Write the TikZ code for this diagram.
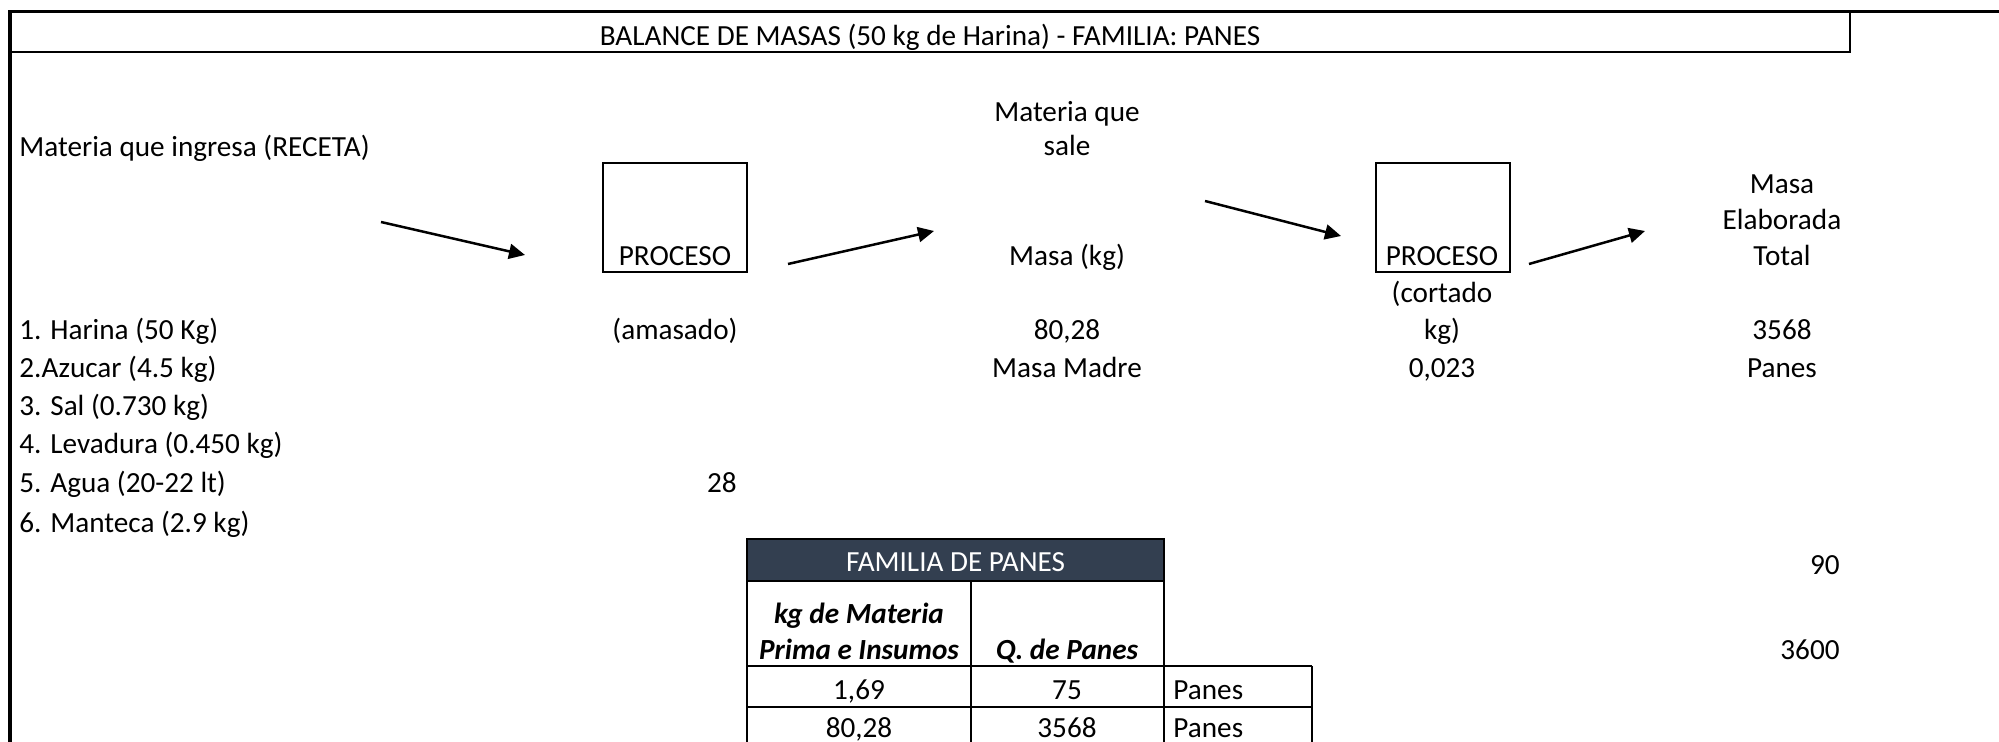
\documentclass[tikz,border=0pt]{standalone}
\usepackage{fontspec}
\setmainfont{Carlito}
\usetikzlibrary{arrows.meta}
\definecolor{hdrblue}{RGB}{51,63,80}
\begin{document}
\begin{tikzpicture}[x=0.5pt,y=-0.5pt,
  txt/.style={inner sep=0pt,anchor=base,yshift=-1.2pt,font=\fontsize{14.6}{17}\selectfont},
  lefttxt/.style={txt,anchor=base west},
  righttxt/.style={txt,anchor=base east},
  boldit/.style={txt,font=\fontsize{14.6}{17}\selectfont\bfseries\itshape},
  lastrow/.style={text depth=0pt},
  frame/.style={line width=1.75pt},
  medline/.style={line width=1pt},
  tblthick/.style={line width=1.3pt},
  tblthin/.style={line width=0.9pt},
  procbox/.style={draw,line width=1pt,inner sep=0pt,minimum height=54.5pt},
  flow/.style={line width=1.25pt,-{Triangle[length=8pt,width=7.5pt]}}
]
\useasboundingbox (0,0) rectangle (1999,742);

% sheet frame and title cell
\draw[frame] (10,742) -- (10,11.5) -- (1999,11.5);
\draw[medline] (10,52) -- (1850,52) -- (1850,11.5);
\node[txt] (title) at (930,43) {BALANCE DE MASAS (50 kg de Harina) - FAMILIA: PANES};

% recipe column
\node[lefttxt] (ingresa) at (19,154) {Materia que ingresa (RECETA)};
\node[lefttxt] (i1) at (19,337) {1. Harina (50 Kg)};
\node[lefttxt] (i2) at (19,375) {2.Azucar (4.5 kg)};
\node[lefttxt] (i3) at (19,413) {3. Sal (0.730 kg)};
\node[lefttxt] (i4) at (19,451) {4. Levadura (0.450 kg)};
\node[lefttxt] (i5) at (19,490) {5. Agua (20-22 lt)};
\node[lefttxt] (i6) at (19,530) {6. Manteca (2.9 kg)};

% first process: kneading
\node[procbox,minimum width=72pt] (p1) at (675,217.5) {};
\node[txt] (p1lbl) at (675,263) {PROCESO};
\node[txt] (amasado) at (675,337) {(amasado)};
\node[righttxt] (v28) at (737,490) {28};

% output of kneading
\node[txt] (sale1) at (1067,119) {Materia que};
\node[txt] (sale2) at (1067,153) {sale};
\node[txt] (masakg) at (1067,263) {Masa (kg)};
\node[txt] (m8028) at (1067,337) {80,28};
\node[txt] (madre) at (1067,375) {Masa Madre};

% second process: cutting
\node[procbox,minimum width=67pt] (p2) at (1442.5,217.5) {};
\node[txt] (p2lbl) at (1442,263) {PROCESO};
\node[txt] (cort1) at (1442,300) {(cortado};
\node[txt] (cort2) at (1442,337) {kg)};
\node[txt] (v0023) at (1442,375) {0,023};

% final product
\node[txt] (el1) at (1782,191) {Masa};
\node[txt] (el2) at (1782,227) {Elaborada};
\node[txt] (el3) at (1782,263) {Total};
\node[txt] (v3568) at (1782,337) {3568};
\node[txt] (panes) at (1782,375) {Panes};
\node[righttxt] (v90) at (1840,572) {90};
\node[righttxt] (v3600) at (1840,657) {3600};

% flow arrows
\coordinate (a1s) at (381,222);  \coordinate (a1e) at (525,255);
\coordinate (a2s) at (788,264);  \coordinate (a2e) at (934,231);
\coordinate (a3s) at (1205,201); \coordinate (a3e) at (1341,236);
\coordinate (a4s) at (1529,264); \coordinate (a4e) at (1645,231);
\draw[flow] (a1s) -- (a1e);
\draw[flow] (a2s) -- (a2e);
\draw[flow] (a3s) -- (a3e);
\draw[flow] (a4s) -- (a4e);

% bread family table
\fill[hdrblue] (747,539) rectangle (1164,581);
\draw[tblthin] (747,666) -- (747,749) (971,666) -- (971,749) (1164,666) -- (1164,749) (1312,666) -- (1312,749);
\draw[tblthin] (747,707) -- (1312,707) (747,749) -- (1312,749) (1164,666) -- (1312,666);
\draw[tblthick] (747,539) rectangle (1164,666);
\draw[tblthick] (747,581) -- (1164,581) (971,581) -- (971,666);
\node[txt,text=white] (famhdr) at (955.5,569) {FAMILIA DE PANES};
\node[boldit] (kg1) at (859,621) {kg de Materia};
\node[boldit] (kg2) at (859,657) {Prima e Insumos};
\node[boldit] (qp) at (1067,657) {Q. de Panes};
\node[txt] (r1a) at (859,697) {1,69};
\node[txt] (r1b) at (1067,697) {75};
\node[lefttxt] (r1c) at (1173,697) {Panes};
\node[txt,lastrow] (r2a) at (859,735) {80,28};
\node[txt,lastrow] (r2b) at (1067,735) {3568};
\node[lefttxt,lastrow] (r2c) at (1173,735) {Panes};
\end{tikzpicture}
\end{document}
